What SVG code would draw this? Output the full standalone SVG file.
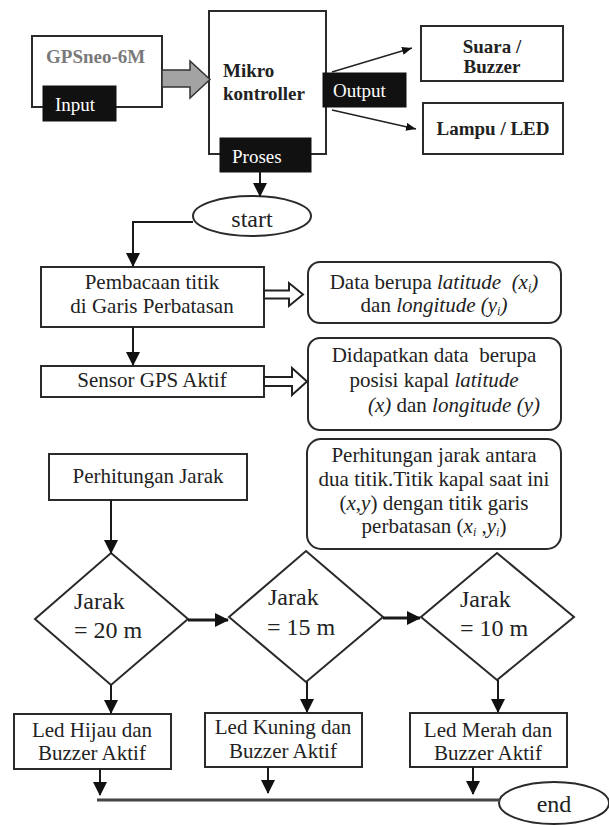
<svg xmlns="http://www.w3.org/2000/svg" width="609" height="825" viewBox="0 0 609 825">
<style>
  .box{fill:#fff;stroke:#2a2a2a;stroke-width:2}
  .blk{fill:#111;stroke:#111}
  text{font-family:'Liberation Serif','Times New Roman','DejaVu Serif',serif}
  .t{font-size:21px;fill:#222}
  .b{font-size:19px;font-weight:bold;fill:#222}
  .w{font-size:19px;fill:#fff}
  .j{font-size:24px;fill:#222}
  .i{font-style:italic}
  .ln{fill:none;stroke:#1a1a1a;stroke-width:2}
</style>
<defs>
  <marker id="ah" markerUnits="userSpaceOnUse" markerWidth="14" markerHeight="14" viewBox="0 0 14 14" refX="13" refY="7" orient="auto">
    <path d="M0,0 L14,7 L0,14 Z" fill="#111"/>
  </marker>
  <marker id="as" markerUnits="userSpaceOnUse" markerWidth="10" markerHeight="8" viewBox="0 0 10 8" refX="10" refY="4" orient="auto">
    <path d="M0,0 L10,4 L0,8 Z" fill="#111"/>
  </marker>
</defs>

<g id="gps">
  <rect class="box" x="32" y="36" width="130" height="71"/>
  <text class="b" x="46" y="63" style="fill:#7a7a7a">GPSneo-6M</text>
  <rect class="blk" x="43" y="86" width="73" height="35"/>
  <text class="w" x="55" y="111">Input</text>
</g>

<g id="mikro">
  <rect class="box" x="209" y="11" width="117" height="143"/>
  <text class="b" x="223" y="77">Mikro</text>
  <text class="b" x="223" y="100">kontroller</text>
  <rect class="blk" x="220" y="138" width="91" height="34"/>
  <text class="w" x="232" y="163">Proses</text>
  <rect class="blk" x="323" y="73" width="83" height="34"/>
  <text class="w" x="333" y="97">Output</text>
</g>

<g id="suara">
  <rect class="box" x="421" y="26" width="142" height="55"/>
  <text class="b" x="492" y="53" text-anchor="middle">Suara /</text>
  <text class="b" x="492" y="73" text-anchor="middle">Buzzer</text>
</g>

<g id="lampu">
  <rect class="box" x="423" y="103" width="140" height="51"/>
  <text class="b" x="493" y="135" text-anchor="middle">Lampu / LED</text>
</g>

<g id="start">
  <ellipse class="box" cx="252" cy="216" rx="59" ry="20"/>
  <text class="j" x="252" y="227" text-anchor="middle">start</text>
</g>

<g id="pembacaan">
  <rect class="box" x="41" y="267" width="223" height="60"/>
  <text class="t" x="152" y="289" text-anchor="middle">Pembacaan titik</text>
  <text class="t" x="152" y="313" text-anchor="middle">di Garis Perbatasan</text>
</g>

<g id="data">
  <rect class="box" x="308" y="262" width="253" height="61" rx="12"/>
  <text class="t" x="434" y="289" text-anchor="middle">Data berupa <tspan class="i">latitude &#160;(x<tspan font-size="12" dy="3">i</tspan><tspan dy="-3">)</tspan></tspan></text>
  <text class="t" x="434" y="312" text-anchor="middle">dan <tspan class="i">longitude (y<tspan font-size="12" dy="3">i</tspan><tspan dy="-3">)</tspan></tspan></text>
</g>

<g id="sensor">
  <rect class="box" x="41" y="366" width="223" height="31"/>
  <text class="t" x="152" y="387" text-anchor="middle">Sensor GPS Aktif</text>
</g>

<g id="didapatkan">
  <rect class="box" x="308" y="338" width="253" height="92" rx="12"/>
  <text class="t" x="434" y="362" text-anchor="middle">Didapatkan data &#160;berupa</text>
  <text class="t" x="434" y="387" text-anchor="middle">posisi kapal <tspan class="i">latitude</tspan></text>
  <text class="t" x="540" y="412" text-anchor="end"><tspan class="i">(x)</tspan> dan <tspan class="i">longitude (y)</tspan></text>
</g>

<g id="perhitungan">
  <rect class="box" x="49" y="454" width="198" height="46"/>
  <text class="t" x="148" y="483" text-anchor="middle">Perhitungan Jarak</text>
</g>

<g id="keterangan">
  <rect class="box" x="307" y="439" width="254" height="110" rx="14"/>
  <text class="t" x="434" y="462" text-anchor="middle">Perhitungan jarak antara</text>
  <text class="t" x="434" y="486" text-anchor="middle">dua titik.Titik kapal saat ini</text>
  <text class="t" x="434" y="510" text-anchor="middle">(<tspan class="i">x</tspan>,<tspan class="i">y</tspan>) dengan titik garis</text>
  <text class="t" x="434" y="533" text-anchor="middle">perbatasan (<tspan class="i">x<tspan font-size="12" dy="3">i</tspan><tspan dy="-3"> ,y</tspan><tspan font-size="12" dy="3">i</tspan></tspan><tspan dy="-3">)</tspan></text>
</g>

<g id="d20">
  <polygon class="box" points="111,553 188,619 111,685 35,619"/>
  <text class="j" x="74" y="609">Jarak</text>
  <text class="j" x="74" y="638">= 20 m</text>
</g>

<g id="d15">
  <polygon class="box" points="306,551 383,617 306,682 229,617"/>
  <text class="j" x="268" y="605">Jarak</text>
  <text class="j" x="267" y="635">= 15 m</text>
</g>

<g id="d10">
  <polygon class="box" points="497,553 574,617 497,680 421,617"/>
  <text class="j" x="460" y="607">Jarak</text>
  <text class="j" x="460" y="636">= 10 m</text>
</g>

<g id="led1">
  <rect class="box" x="14" y="714" width="157" height="55"/>
  <text class="t" x="92" y="737" text-anchor="middle">Led Hijau dan</text>
  <text class="t" x="92" y="760" text-anchor="middle">Buzzer Aktif</text>
</g>

<g id="led2">
  <rect class="box" x="205" y="713" width="157" height="54"/>
  <text class="t" x="283" y="734" text-anchor="middle">Led Kuning dan</text>
  <text class="t" x="283" y="758" text-anchor="middle">Buzzer Aktif</text>
</g>

<g id="led3">
  <rect class="box" x="410" y="713" width="157" height="54"/>
  <text class="t" x="488" y="737" text-anchor="middle">Led Merah dan</text>
  <text class="t" x="488" y="760" text-anchor="middle">Buzzer Aktif</text>
</g>

<g id="end">
  <ellipse class="box" cx="554" cy="803" rx="55" ry="21"/>
  <text class="j" x="554" y="812" text-anchor="middle">end</text>
</g>

<g id="connectors">
  <polygon points="162,70 190,70 190,61 210,79.5 190,98 190,87 162,87" fill="#a3a3a3" stroke="#333" stroke-width="1.5"/>
  <line x1="332" y1="72" x2="412" y2="48" stroke="#222" stroke-width="1.5" marker-end="url(#as)"/>
  <line x1="332" y1="110" x2="416" y2="129" stroke="#222" stroke-width="1.5" marker-end="url(#as)"/>
  <line class="ln" x1="260" y1="172" x2="260" y2="196" marker-end="url(#ah)"/>
  <polyline class="ln" points="193,222 133,222 133,266" marker-end="url(#ah)"/>
  <line class="ln" x1="133" y1="327" x2="133" y2="365" marker-end="url(#ah)"/>
  <polygon points="264,290.5 289,290.5 289,283 303,294.5 289,306 289,298.5 264,298.5" fill="#fff" stroke="#222" stroke-width="2"/>
  <polygon points="264,377 292,377 292,368 307,381.5 292,395 292,386 264,386" fill="#fff" stroke="#222" stroke-width="2"/>
  <line class="ln" x1="111" y1="500" x2="111" y2="553" marker-end="url(#ah)"/>
  <line x1="188" y1="620" x2="228" y2="620" stroke="#1a1a1a" stroke-width="3" marker-end="url(#ah)"/>
  <line x1="383" y1="618" x2="420" y2="618" stroke="#1a1a1a" stroke-width="3" marker-end="url(#ah)"/>
  <line class="ln" x1="111" y1="685" x2="111" y2="713" marker-end="url(#ah)"/>
  <line class="ln" x1="307" y1="682" x2="307" y2="712" marker-end="url(#ah)"/>
  <line class="ln" x1="498" y1="680" x2="498" y2="712" marker-end="url(#ah)"/>
  <line class="ln" x1="100" y1="769" x2="100" y2="795" marker-end="url(#ah)"/>
  <line class="ln" x1="268" y1="767" x2="268" y2="793" marker-end="url(#ah)"/>
  <line class="ln" x1="473" y1="767" x2="473" y2="794" marker-end="url(#ah)"/>
  <line x1="97" y1="800" x2="500" y2="800" stroke="#444" stroke-width="3"/>
</g>
</svg>
